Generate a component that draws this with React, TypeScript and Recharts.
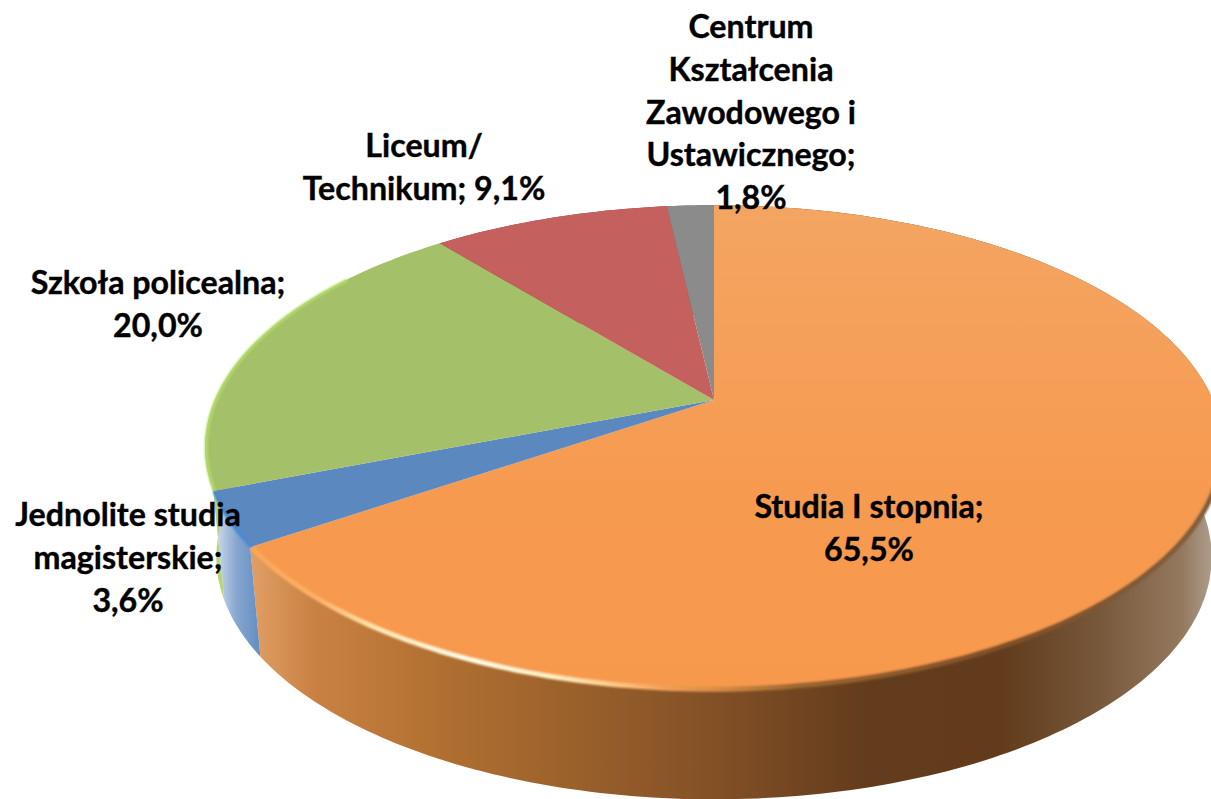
import { Pie, PieChart } from "recharts";

const categories = [
  "Studia I stopnia",
  "Jednolite studia magisterskie",
  "Szkoła policealna",
  "Liceum/Technikum",
  "Centrum Kształcenia Zawodowego i Ustawicznego",
];
const shares = [65.5, 3.6, 20.0, 9.1, 1.8];

// how each label breaks, the value is added where {v} stands
const labelLines = [
  ["Studia I stopnia;", "{v}"],
  ["Jednolite studia", "magisterskie;", "{v}"],
  ["Szkoła policealna;", "{v}"],
  ["Liceum/", "Technikum; {v}"],
  ["Centrum", "Kształcenia", "Zawodowego i", "Ustawicznego;", "{v}"],
];

const labelAnchors = [
  { x: 869, y: 518 },
  { x: 128, y: 526 },
  { x: 158, y: 294 },
  { x: 424, y: 157 },
  { x: 751, y: 38 },
];

const topFills = ["url(#top0)", "#5b88bf", "#a4c069", "#c4605d", "#8b8b8b"];
const wallFills = ["url(#wall0)", "url(#wall1)", "#b5d57a", "#8f3f3d", "#666666"];
const rimStrokes = ["url(#rim0)", "#4a8ad4", "#b4dc68", "none", "none"];
const rimWidths = [5, 3.5, 3, 0, 0];

const rows = categories.map((name, idx) => ({ name, value: shares[idx], idx }));

const WIDTH = 1211;
const HEIGHT = 799;
const RADIUS = 499;

// fake 3D: the flat pie is tipped back with a perspective divide
const TILT = 233 / 499;
const PERSPECTIVE = 0.196;
const DEPTH = 109.5;
const FLOOR_SCALE = 0.978;

const toPoint = (cx: number, cy: number, r: number, angle: number) => {
  const a = ((90 - angle) * Math.PI) / 180;
  const w = 1 + PERSPECTIVE * Math.cos(a);
  return { x: cx + (r * Math.sin(a)) / w, y: cy - (r * TILT * Math.cos(a)) / w };
};

const arcPoints = (cx: number, cy: number, r: number, from: number, to: number) => {
  const steps = Math.max(2, Math.ceil(Math.abs(to - from)));
  const pts = [];
  for (let i = 0; i <= steps; i++) pts.push(toPoint(cx, cy, r, from + ((to - from) * i) / steps));
  return pts;
};

const toPath = (pts: { x: number; y: number }[]) =>
  pts.map((p, i) => `${i ? "L" : "M"}${p.x.toFixed(1)} ${p.y.toFixed(1)}`).join(" ");

const WallShape = (props: any) => {
  const { cx, cy, outerRadius, startAngle, endAngle } = props;
  const upper = arcPoints(cx, cy, outerRadius, startAngle, endAngle);
  const lower = upper
    .map((p) => ({ x: cx + (p.x - cx) * FLOOR_SCALE, y: p.y + DEPTH }))
    .reverse();
  return <path d={`${toPath([...upper, ...lower])} Z`} fill={wallFills[props.payload.idx]} />;
};

const TopShape = (props: any) => {
  const { cx, cy, outerRadius, startAngle, endAngle } = props;
  const idx = props.payload.idx;
  const edge = arcPoints(cx, cy, outerRadius, startAngle, endAngle);
  // only the near half of the disc catches the light, so the rim stops at the widest point
  const rimFrom = Math.min(startAngle, -10);
  const rim = arcPoints(cx, cy, outerRadius - 1, rimFrom, Math.max(endAngle, -215));
  return (
    <g>
      <path d={`${toPath([{ x: cx, y: cy }, ...edge])} Z`} fill={topFills[idx]} />
      {rimWidths[idx] > 0 && (
        <path
          d={toPath(rim)}
          fill="none"
          stroke={rimStrokes[idx]}
          strokeWidth={rimWidths[idx]}
          filter="url(#soft)"
        />
      )}
    </g>
  );
};

const renderLabel = (props: any) => {
  const idx = props.payload?.idx ?? props.index;
  const anchor = labelAnchors[idx];
  const text = shares[idx].toFixed(1).replace(".", ",") + "%";
  return (
    <text
      key={idx}
      x={anchor.x}
      y={anchor.y}
      textAnchor="middle"
      fontFamily="Lato, sans-serif"
      fontWeight={700}
      fontSize={32.2}
      fill="#000000"
      stroke="#000000"
      strokeWidth={0.4}
    >
      {labelLines[idx].map((line, i) => (
        <tspan key={i} x={anchor.x} dy={i ? 42.8 : 0}>
          {line.replace("{v}", text)}
        </tspan>
      ))}
    </text>
  );
};

export default function App() {
  return (
    <div style={{ position: "absolute", left: 0, top: 0, width: WIDTH, height: HEIGHT, overflow: "hidden" }}>
      <PieChart width={WIDTH} height={HEIGHT} margin={{ top: 0, right: 0, bottom: 0, left: 0 }}>
        <defs>
          <linearGradient id="top0" gradientUnits="userSpaceOnUse" x1="0" y1="205" x2="0" y2="690">
            <stop offset="0%" stopColor="#f4a562" />
            <stop offset="60%" stopColor="#f69a50" />
            <stop offset="100%" stopColor="#f7994d" />
          </linearGradient>
          <linearGradient id="wall0" gradientUnits="userSpaceOnUse" x1="255" y1="0" x2="1211" y2="0">
            <stop offset="0%" stopColor="#e09c62" />
            <stop offset="6%" stopColor="#c98244" />
            <stop offset="18%" stopColor="#b37132" />
            <stop offset="34%" stopColor="#99602b" />
            <stop offset="48%" stopColor="#835026" />
            <stop offset="64%" stopColor="#633c1c" />
            <stop offset="78%" stopColor="#613b1c" />
            <stop offset="88%" stopColor="#77573a" />
            <stop offset="97%" stopColor="#94795f" />
            <stop offset="100%" stopColor="#ad9c8a" />
          </linearGradient>
          <linearGradient id="wall1" gradientUnits="userSpaceOnUse" x1="216" y1="0" x2="262" y2="0">
            <stop offset="0%" stopColor="#cfdaea" />
            <stop offset="45%" stopColor="#86a6cf" />
            <stop offset="100%" stopColor="#5f8cc0" />
          </linearGradient>
          <linearGradient id="rim0" gradientUnits="userSpaceOnUse" x1="250" y1="0" x2="1211" y2="0">
            <stop offset="0%" stopColor="#fba655" />
            <stop offset="7%" stopColor="#fbb066" />
            <stop offset="13%" stopColor="#ffe4ae" />
            <stop offset="22%" stopColor="#fffce6" />
            <stop offset="31%" stopColor="#fff0c4" />
            <stop offset="37%" stopColor="#ffcf90" />
            <stop offset="43%" stopColor="#f2a055" />
            <stop offset="49%" stopColor="#d58a45" />
            <stop offset="57%" stopColor="#9a6430" />
            <stop offset="78%" stopColor="#7c4e26" />
            <stop offset="100%" stopColor="#7f5e3e" />
          </linearGradient>
          <filter id="soft" filterUnits="userSpaceOnUse" x="0" y="0" width="1211" height="799">
            <feGaussianBlur stdDeviation="1" />
          </filter>
        </defs>
        <Pie
          data={rows}
          dataKey="value"
          nameKey="name"
          cx={714}
          cy={400}
          outerRadius={RADIUS}
          startAngle={90}
          endAngle={-270}
          stroke="none"
          shape={WallShape}
          isAnimationActive={false}
        />
        <Pie
          data={rows}
          dataKey="value"
          nameKey="name"
          cx={714}
          cy={400}
          outerRadius={RADIUS}
          startAngle={90}
          endAngle={-270}
          stroke="none"
          shape={TopShape}
          label={renderLabel}
          labelLine={false}
          isAnimationActive={false}
        />
      </PieChart>
    </div>
  );
}
